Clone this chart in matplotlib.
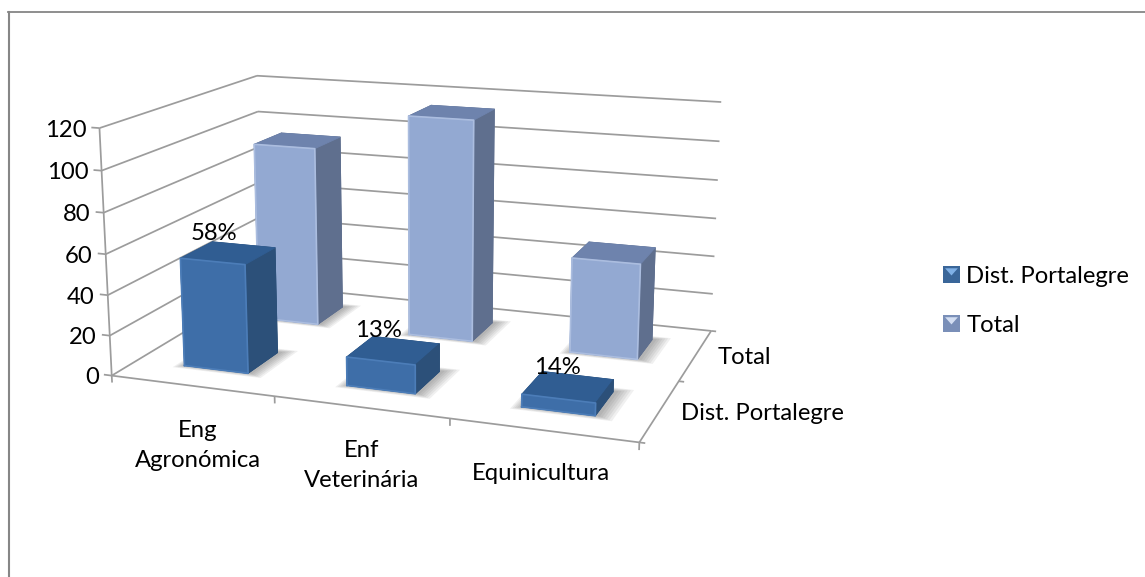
import numpy as np
import matplotlib
matplotlib.use('Agg')
import matplotlib.pyplot as plt
from matplotlib.legend_handler import HandlerBase
from matplotlib.lines import Line2D
from matplotlib.patches import Patch, Polygon, Rectangle
from mpl_toolkits.mplot3d import proj3d
from mpl_toolkits.mplot3d.art3d import Poly3DCollection

plt.rcParams['font.family'] = ['Lato', 'DejaVu Sans']

categories = ['Eng\nAgronómica', 'Enf\nVeterinária', 'Equinicultura']
series_names = ['Dist. Portalegre', 'Total']
dist_values = [54, 14, 6]
total_values = [94, 114, 48.5]
pct_labels = ['58%', '13%', '14%']
z_ticks = [0, 20, 40, 60, 80, 100, 120]

# front, right, top colours of each series
dark_faces = ('#3E6EA8', '#2C5079', '#305D92')
light_faces = ('#93A9D2', '#5F6F8E', '#6E83AD')
grid_col = '#9C9C9C'
text_size = 17.2

fig = plt.figure(figsize=(11.45, 5.77), dpi=100)
W, H = fig.bbox.width, fig.bbox.height

# camera fitted against the corners of the original plot box
ax_px = 652.66
ax = fig.add_axes([88.54 / W, 6.27 / H, ax_px / W, ax_px / H], projection='3d', computed_zorder=False)
ax.set_xlim(0, 3)
ax.set_ylim(0, 2)
ax.set_zlim(0, 120)
ax.view_init(14.24, -70.06, 0.042)
ax.set_proj_type('persp', focal_length=0.47)
ax.set_box_aspect((2.136, 1.396, 1))
ax.set_axis_off()


def line3d(xs, ys, zs, z=1):
    ax.plot(xs, ys, zs, color=grid_col, lw=1.25, zorder=z, solid_capstyle='butt')


def note(x, y, z, s, dx, dy, **kw):
    xp, yp, _ = proj3d.proj_transform(x, y, z, ax.get_proj())
    ax.annotate(s, (xp, yp), xytext=(dx, dy), textcoords='offset pixels', annotation_clip=False,
                fontsize=text_size, color='black', zorder=20, **kw)


# walls and floor
for v in z_ticks:
    line3d([0, 3], [2, 2], [v, v])
    line3d([0, 0], [0, 2], [v, v])
    line3d([0, -0.05], [0, 0], [v, v])
    note(0, 0, v, str(v), -13, -2, ha='right', va='center')
line3d([0, 0], [0, 0], [0, 120])
line3d([0, 3], [0, 0], [0, 0])
line3d([3, 3], [0, 2], [0, 0])
for i in range(len(categories) + 1):
    line3d([i, i], [0, 0], [0, -3.5])
for j in range(len(series_names) + 1):
    line3d([3, 3.03], [j, j], [0, 0])


def draw_bar(i, j, v, faces, z):
    x0, y0 = i + 0.3, j + 0.3
    dx, dy = 0.4, 0.4
    # soft shadow on the floor
    for grow in (0.06, 0.05, 0.04, 0.03, 0.02, 0.01):
        sx, sy = x0 + 0.01, y0 + 0.01
        poly = [[(sx - grow, sy - grow, 0), (sx + dx + grow * 1.5, sy - grow, 0),
                 (sx + dx + grow * 1.5, sy + dy + grow, 0), (sx - grow, sy + dy + grow, 0)]]
        ax.add_collection3d(Poly3DCollection(poly, facecolors='#404040', edgecolors='none', alpha=0.08, zorder=z - 1))
    front, side, top = faces
    cols = [side, top, front, side, side, side]
    ax.bar3d(x0, y0, 0, dx, dy, v, color=cols, edgecolor=cols, linewidth=0.6, shade=False, zorder=z)
    # bevel highlight around the front face
    lit = '#ABBDDF' if faces is light_faces else '#4C7DB8'
    ax.plot([x0, x0, x0 + dx, x0 + dx, x0], [y0] * 5, [0, v, v, 0, 0], color=lit, lw=1.2, zorder=z + 0.5)


for i, v in enumerate(total_values):
    draw_bar(i, 1, v, light_faces, 3)
for i, v in enumerate(dist_values):
    draw_bar(i, 0, v, dark_faces, 6)

# axis texts
cat_offsets = [(6, -60), (1, -58), (-2, -43)]
for i, name in enumerate(categories):
    note(i + 0.5, 0, 0, name, cat_offsets[i][0], cat_offsets[i][1], ha='center', va='center', linespacing=1.52)
note(3, 1.5, 0, series_names[1], 22, -3, ha='left', va='center')
note(3, 0.5, 0, series_names[0], 21, -3, ha='left', va='center')

# data labels above the front bars
pct_offsets = [(-14, 19), (-15, 20), (-11, 19)]
for i, (v, s) in enumerate(zip(dist_values, pct_labels)):
    note(i + 0.5, 0.5, v, s, pct_offsets[i][0], pct_offsets[i][1], ha='center', va='center')


class BevelHandler(HandlerBase):
    def create_artists(self, legend, orig, xd, yd, width, height, fontsize, trans):
        base = Rectangle((-xd, -yd), width, height, facecolor=orig.get_edgecolor(), edgecolor='none', transform=trans)
        inner = Polygon([(-xd + 1.5, -yd + height - 1.5), (-xd + width - 1.5, -yd + height - 1.5),
                         (-xd + width / 2, -yd + height * 0.45)], facecolor=orig.get_facecolor(),
                        edgecolor='none', transform=trans)
        return [base, inner]


handles = [Patch(facecolor='#7FB0E6', edgecolor='#3A6699', label=series_names[0]),
           Patch(facecolor='#D3DEF2', edgecolor='#7A8FB8', label=series_names[1])]
fig.legend(handles=handles, loc='upper left', bbox_to_anchor=(943 / W, 1 - 266 / H), frameon=False,
           fontsize=text_size, handlelength=0.71, handleheight=0.71, handletextpad=0.26, borderpad=0,
           borderaxespad=0, labelspacing=1.17, handler_map={Patch: BevelHandler()})

# chart frame
fig.add_artist(Line2D([8.5 / W, 8.5 / W], [0, 1 - 11.5 / H], color='#868686', lw=1.5))
fig.add_artist(Line2D([7.5 / W, 1], [1 - 12 / H, 1 - 12 / H], color='#868686', lw=1.3))

fig.savefig('out.png', dpi=100)
